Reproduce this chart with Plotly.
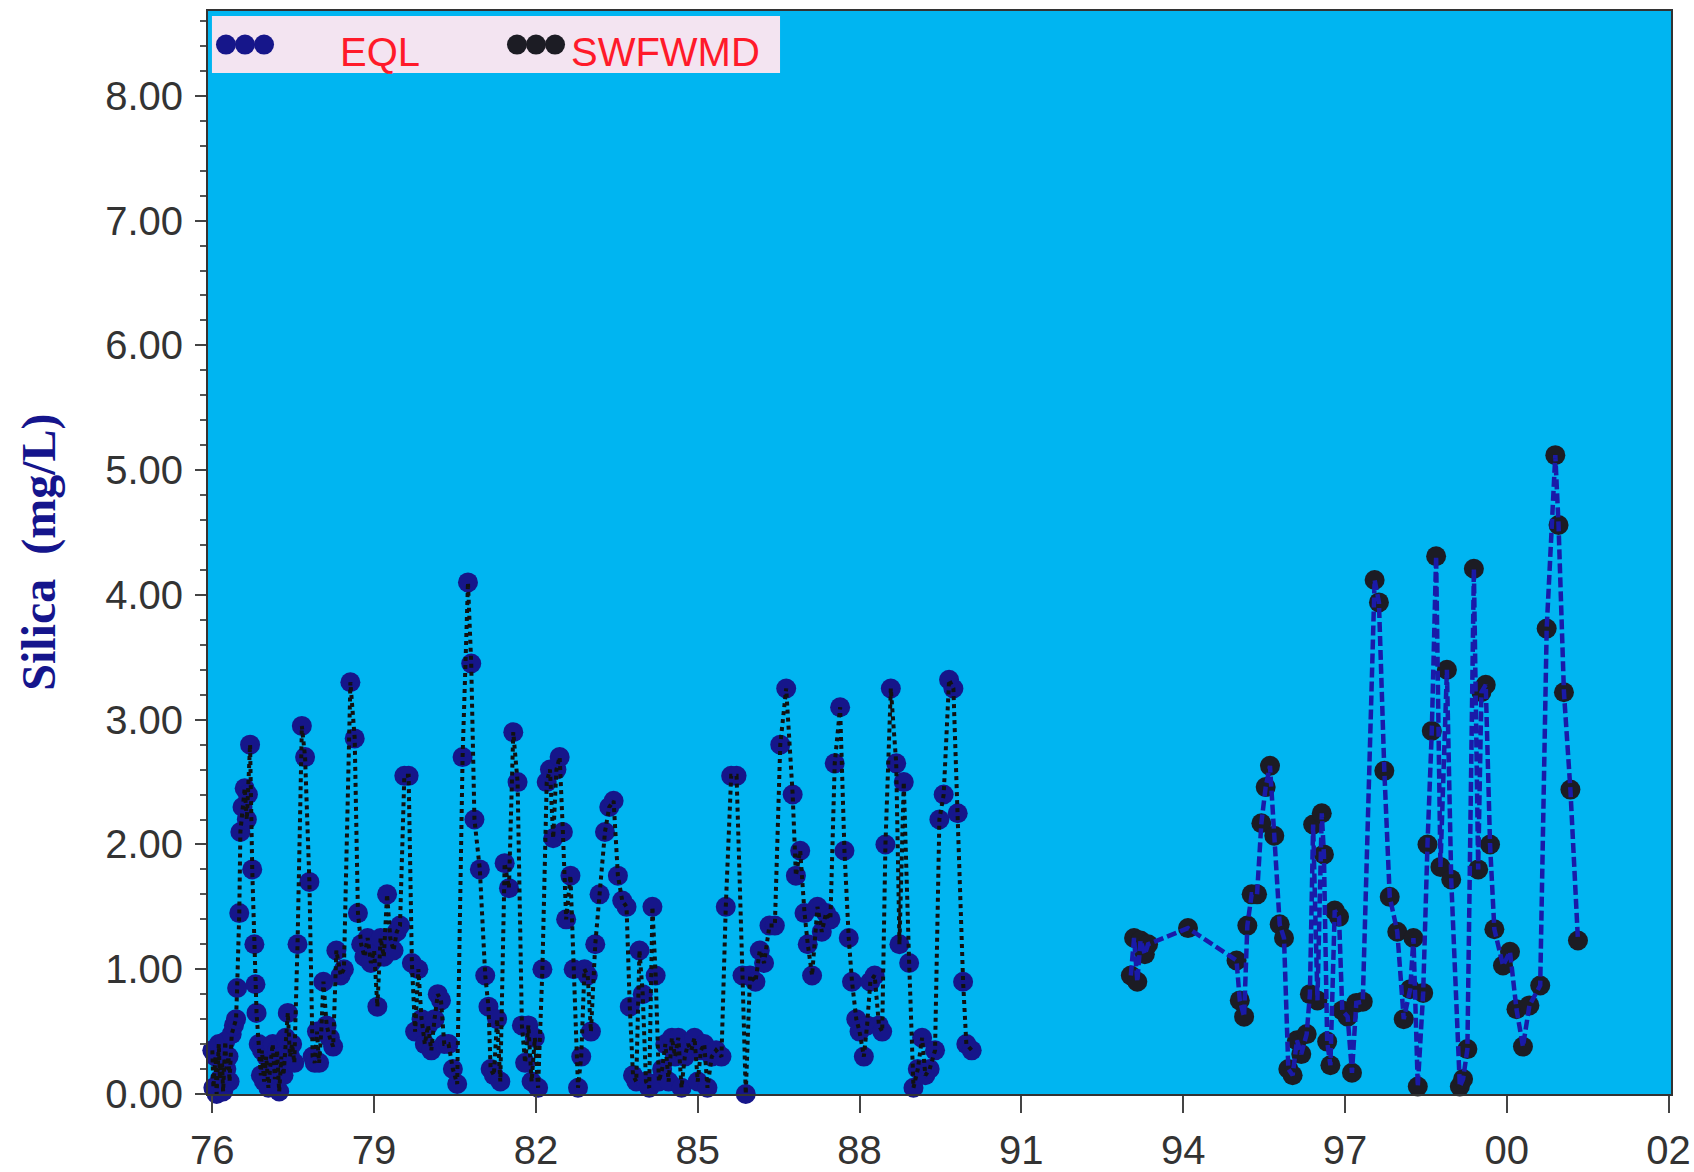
import plotly.graph_objects as go

# ---------------- data ----------------
eql_year = [
    1976.00, 1976.02, 1976.06, 1976.08, 1976.12, 1976.14, 1976.18, 1976.20, 1976.24, 1976.26,
    1976.30, 1976.32, 1976.36, 1976.40, 1976.44, 1976.46, 1976.50, 1976.52, 1976.56, 1976.60,
    1976.64, 1976.66, 1976.70, 1976.74, 1976.78, 1976.80, 1976.82, 1976.86, 1976.90, 1976.92,
    1976.96, 1977.00, 1977.04, 1977.08, 1977.12, 1977.16, 1977.20, 1977.24, 1977.28, 1977.32,
    1977.36, 1977.40, 1977.44, 1977.48, 1977.52, 1977.58, 1977.66, 1977.72, 1977.80, 1977.86,
    1977.90, 1977.94, 1977.98, 1978.02, 1978.06, 1978.12, 1978.18, 1978.24, 1978.30, 1978.38,
    1978.44, 1978.56, 1978.64, 1978.70, 1978.76, 1978.82, 1978.88, 1978.94, 1979.00, 1979.06,
    1979.12, 1979.18, 1979.24, 1979.30, 1979.36, 1979.42, 1979.48, 1979.56, 1979.64, 1979.70,
    1979.76, 1979.82, 1979.88, 1979.94, 1980.00, 1980.06, 1980.12, 1980.18, 1980.24, 1980.30,
    1980.38, 1980.46, 1980.54, 1980.64, 1980.74, 1980.80, 1980.86, 1980.96, 1981.06, 1981.12,
    1981.16, 1981.22, 1981.28, 1981.34, 1981.42, 1981.50, 1981.58, 1981.66, 1981.74, 1981.80,
    1981.86, 1981.92, 1981.98, 1982.04, 1982.12, 1982.20, 1982.26, 1982.32, 1982.38, 1982.44,
    1982.50, 1982.56, 1982.64, 1982.70, 1982.78, 1982.84, 1982.90, 1982.96, 1983.02, 1983.10,
    1983.18, 1983.28, 1983.36, 1983.44, 1983.52, 1983.60, 1983.68, 1983.74, 1983.80, 1983.86,
    1983.92, 1983.98, 1984.04, 1984.10, 1984.16, 1984.22, 1984.28, 1984.34, 1984.40, 1984.46,
    1984.52, 1984.58, 1984.64, 1984.70, 1984.76, 1984.82, 1984.88, 1984.94, 1985.00, 1985.06,
    1985.12, 1985.18, 1985.26, 1985.34, 1985.44, 1985.52, 1985.62, 1985.72, 1985.83, 1985.89,
    1985.97, 1986.07, 1986.15, 1986.23, 1986.33, 1986.43, 1986.53, 1986.64, 1986.76, 1986.82,
    1986.90, 1986.98, 1987.04, 1987.12, 1987.22, 1987.30, 1987.38, 1987.46, 1987.54, 1987.64,
    1987.72, 1987.80, 1987.86, 1987.94, 1988.00, 1988.08, 1988.14, 1988.20, 1988.28, 1988.36,
    1988.42, 1988.48, 1988.58, 1988.68, 1988.74, 1988.82, 1988.92, 1989.00, 1989.08, 1989.16,
    1989.22, 1989.30, 1989.40, 1989.48, 1989.56, 1989.66, 1989.74, 1989.82, 1989.92, 1989.98,
    1990.08,
]
eql_silica = [
    0.35, 0.05, 0.30, 0.00, 0.40, 0.12, 0.25, 0.02, 0.42, 0.20,
    0.30, 0.10, 0.48, 0.55, 0.60, 0.85, 1.45, 2.10, 2.30, 2.45,
    2.20, 2.40, 2.80, 1.80, 1.20, 0.88, 0.65, 0.40, 0.15, 0.35,
    0.10, 0.30, 0.05, 0.25, 0.40, 0.12, 0.35, 0.02, 0.30, 0.15,
    0.45, 0.65, 0.30, 0.40, 0.25, 1.20, 2.95, 2.70, 1.70, 0.30,
    0.25, 0.50, 0.25, 0.50, 0.90, 0.55, 0.45, 0.38, 1.15, 0.95,
    1.00, 3.30, 2.85, 1.45, 1.20, 1.10, 1.25, 1.05, 1.15, 0.70,
    1.25, 1.10, 1.60, 1.25, 1.15, 1.30, 1.35, 2.55, 2.55, 1.05,
    0.50, 1.00, 0.60, 0.40, 0.55, 0.35, 0.60, 0.80, 0.75, 0.40,
    0.40, 0.20, 0.08, 2.70, 4.10, 3.45, 2.20, 1.80, 0.95, 0.70,
    0.20, 0.15, 0.60, 0.10, 1.85, 1.65, 2.90, 2.50, 0.55, 0.25,
    0.55, 0.10, 0.45, 0.05, 1.00, 2.50, 2.60, 2.05, 2.60, 2.70,
    2.10, 1.40, 1.75, 1.00, 0.05, 0.30, 1.00, 0.95, 0.50, 1.20,
    1.60, 2.10, 2.30, 2.35, 1.75, 1.55, 1.50, 0.70, 0.15, 0.10,
    1.15, 0.80, 0.10, 0.05, 1.50, 0.95, 0.10, 0.20, 0.40, 0.10,
    0.45, 0.30, 0.45, 0.05, 0.30, 0.40, 0.35, 0.45, 0.10, 0.35,
    0.40, 0.05, 0.30, 0.35, 0.30, 1.50, 2.55, 2.55, 0.95, 0.00,
    0.95, 0.90, 1.15, 1.05, 1.35, 1.35, 2.80, 3.25, 2.40, 1.75,
    1.95, 1.45, 1.20, 0.95, 1.50, 1.30, 1.45, 1.40, 2.65, 3.10,
    1.95, 1.25, 0.90, 0.60, 0.50, 0.30, 0.55, 0.90, 0.95, 0.55,
    0.50, 2.00, 3.25, 2.65, 1.20, 2.50, 1.05, 0.05, 0.20, 0.45,
    0.15, 0.20, 0.35, 2.20, 2.40, 3.32, 3.25, 2.25, 0.90, 0.40,
    0.35,
]

swf_year = [
    1993.03, 1993.09, 1993.15, 1993.21, 1993.29, 1993.35, 1994.09, 1994.99, 1995.05, 1995.13,
    1995.19, 1995.27, 1995.37, 1995.45, 1995.53, 1995.61, 1995.69, 1995.79, 1995.87, 1995.95,
    1996.03, 1996.11, 1996.19, 1996.29, 1996.35, 1996.41, 1996.49, 1996.57, 1996.61, 1996.67,
    1996.73, 1996.81, 1996.89, 1996.95, 1997.05, 1997.13, 1997.21, 1997.33, 1997.55, 1997.63,
    1997.73, 1997.83, 1997.97, 1998.09, 1998.21, 1998.27, 1998.35, 1998.45, 1998.53, 1998.61,
    1998.69, 1998.77, 1998.89, 1998.97, 1999.13, 1999.19, 1999.27, 1999.39, 1999.47, 1999.53,
    1999.61, 1999.69, 1999.77, 1999.93, 2000.06, 2000.18, 2000.30, 2000.42, 2000.62, 2000.74,
    2000.90, 2000.96, 2001.06, 2001.18, 2001.32,
]
swf_silica = [
    0.95, 1.25, 0.90, 1.23, 1.12, 1.20, 1.33, 1.07, 0.75, 0.62,
    1.35, 1.60, 1.60, 2.17, 2.46, 2.63, 2.07, 1.36, 1.25, 0.20,
    0.15, 0.43, 0.32, 0.48, 0.80, 2.16, 0.75, 2.25, 1.92, 0.42,
    0.23, 1.47, 1.42, 0.67, 0.62, 0.17, 0.73, 0.74, 4.12, 3.94,
    2.59, 1.58, 1.30, 0.60, 0.84, 1.25, 0.06, 0.81, 2.00, 2.91,
    4.31, 1.82, 3.40, 1.72, 0.06, 0.12, 0.36, 4.21, 1.80, 3.22,
    3.28, 2.00, 1.32, 1.03, 1.14, 0.68, 0.38, 0.71, 0.87, 3.73,
    5.12, 4.56, 3.22, 2.44, 1.23,
]

x_tick_years = [1976, 1979, 1982, 1985, 1988, 1991, 1994, 1997, 2000, 2003]
x_tick_labels = ["76", "79", "82", "85", "88", "91", "94", "97", "00", "02"]
y_tick_values = [0, 1, 2, 3, 4, 5, 6, 7, 8]

series_names = ["EQL", "SWFWMD"]

# ---------------- styling ----------------
NAVY = "#16168a"
DARK = "#1c1c24"
LINE_NAVY = "#1a1aa8"
BG = "#00b5f1"
TICK_FONT = dict(family="Liberation Sans, Arial, sans-serif", size=40, color="#333333")

fig = go.Figure()

# EQL: navy markers, black dotted connecting line
fig.add_trace(go.Scatter(x=eql_year, y=eql_silica, mode="markers", name=series_names[0],
                         marker=dict(size=20, color=NAVY), cliponaxis=False, showlegend=False))
fig.add_trace(go.Scatter(x=eql_year, y=eql_silica, mode="lines", name=series_names[0],
                         line=dict(color="#111111", width=4, dash="dot"),
                         cliponaxis=False, showlegend=False))
# SWFWMD: dark markers, navy dashed line
fig.add_trace(go.Scatter(x=swf_year, y=swf_silica, mode="markers", name=series_names[1],
                         marker=dict(size=20, color=DARK), cliponaxis=False, showlegend=False))
fig.add_trace(go.Scatter(x=swf_year, y=swf_silica, mode="lines", name=series_names[1],
                         line=dict(color=LINE_NAVY, width=4.5, dash="10px,4px"),
                         cliponaxis=False, showlegend=False))

fig.update_layout(
    width=1694, height=1172,
    margin=dict(l=208, r=23, t=11, b=78, pad=0, autoexpand=False),
    paper_bgcolor="white",
    plot_bgcolor=BG,
    showlegend=False,
)

fig.update_xaxes(
    range=[1975.92, 2003.045], automargin=False,
    tickmode="array", tickvals=x_tick_years, ticktext=x_tick_labels,
    ticks="outside", ticklen=17, tickwidth=2, tickcolor="#444444",
    tickfont=TICK_FONT, ticklabelstandoff=3, ticklabeloverflow="allow",
    showgrid=False, zeroline=False,
    showline=True, linecolor="#333333", linewidth=2, mirror=True,
)
fig.update_yaxes(
    range=[0, 8.68], automargin=False,
    tickmode="array", tickvals=y_tick_values, tickformat=".2f",
    ticks="outside", ticklen=11, tickwidth=2, tickcolor="#444444",
    minor=dict(dtick=0.2, ticks="outside", ticklen=6, tickwidth=1.5, tickcolor="#555555"),
    tickfont=TICK_FONT, ticklabelstandoff=4,
    showgrid=False, zeroline=False,
    showline=True, linecolor="#333333", linewidth=2, mirror=True,
)

# y-axis title
fig.add_annotation(
    text="Silica  (mg/L)", textangle=-90,
    xref="paper", yref="paper", x=-0.116, y=0.50,
    xanchor="center", yanchor="middle", showarrow=False,
    font=dict(family="Liberation Serif, Times New Roman, serif", size=48, color="#15158c", weight="bold"),
)

# legend box (drawn manually to mimic three-dot legend symbols)
fig.add_shape(type="rect", xref="paper", yref="paper",
              x0=0.0027, x1=0.391, y0=0.9428, y1=0.9954,
              fillcolor="#f3e4f1", line=dict(width=0), layer="above")

legend_items = [
    (series_names[0], NAVY, 0.0123, 0.0888),
    (series_names[1], DARK, 0.2112, 0.2468),
]
for name, col, dot_x, text_x in legend_items:
    for k in range(3):
        fig.add_shape(type="circle", xref="paper", yref="paper",
                      xsizemode="pixel", ysizemode="pixel",
                      xanchor=dot_x + k * 0.0130, yanchor=0.9690,
                      x0=-10, x1=10, y0=-10, y1=10,
                      fillcolor=col, line=dict(width=0), layer="above")
    fig.add_annotation(text=name, xref="paper", yref="paper",
                       x=text_x, y=0.962, xanchor="left", yanchor="middle",
                       showarrow=False,
                       font=dict(family="Liberation Sans, Arial, sans-serif", size=40, color="#ff1a2a"))

# remove the default 8px page margin so the figure fills the window exactly
fig.write_html("out.html", config={"displayModeBar": False},
               post_script="document.body.style.margin='0';")
